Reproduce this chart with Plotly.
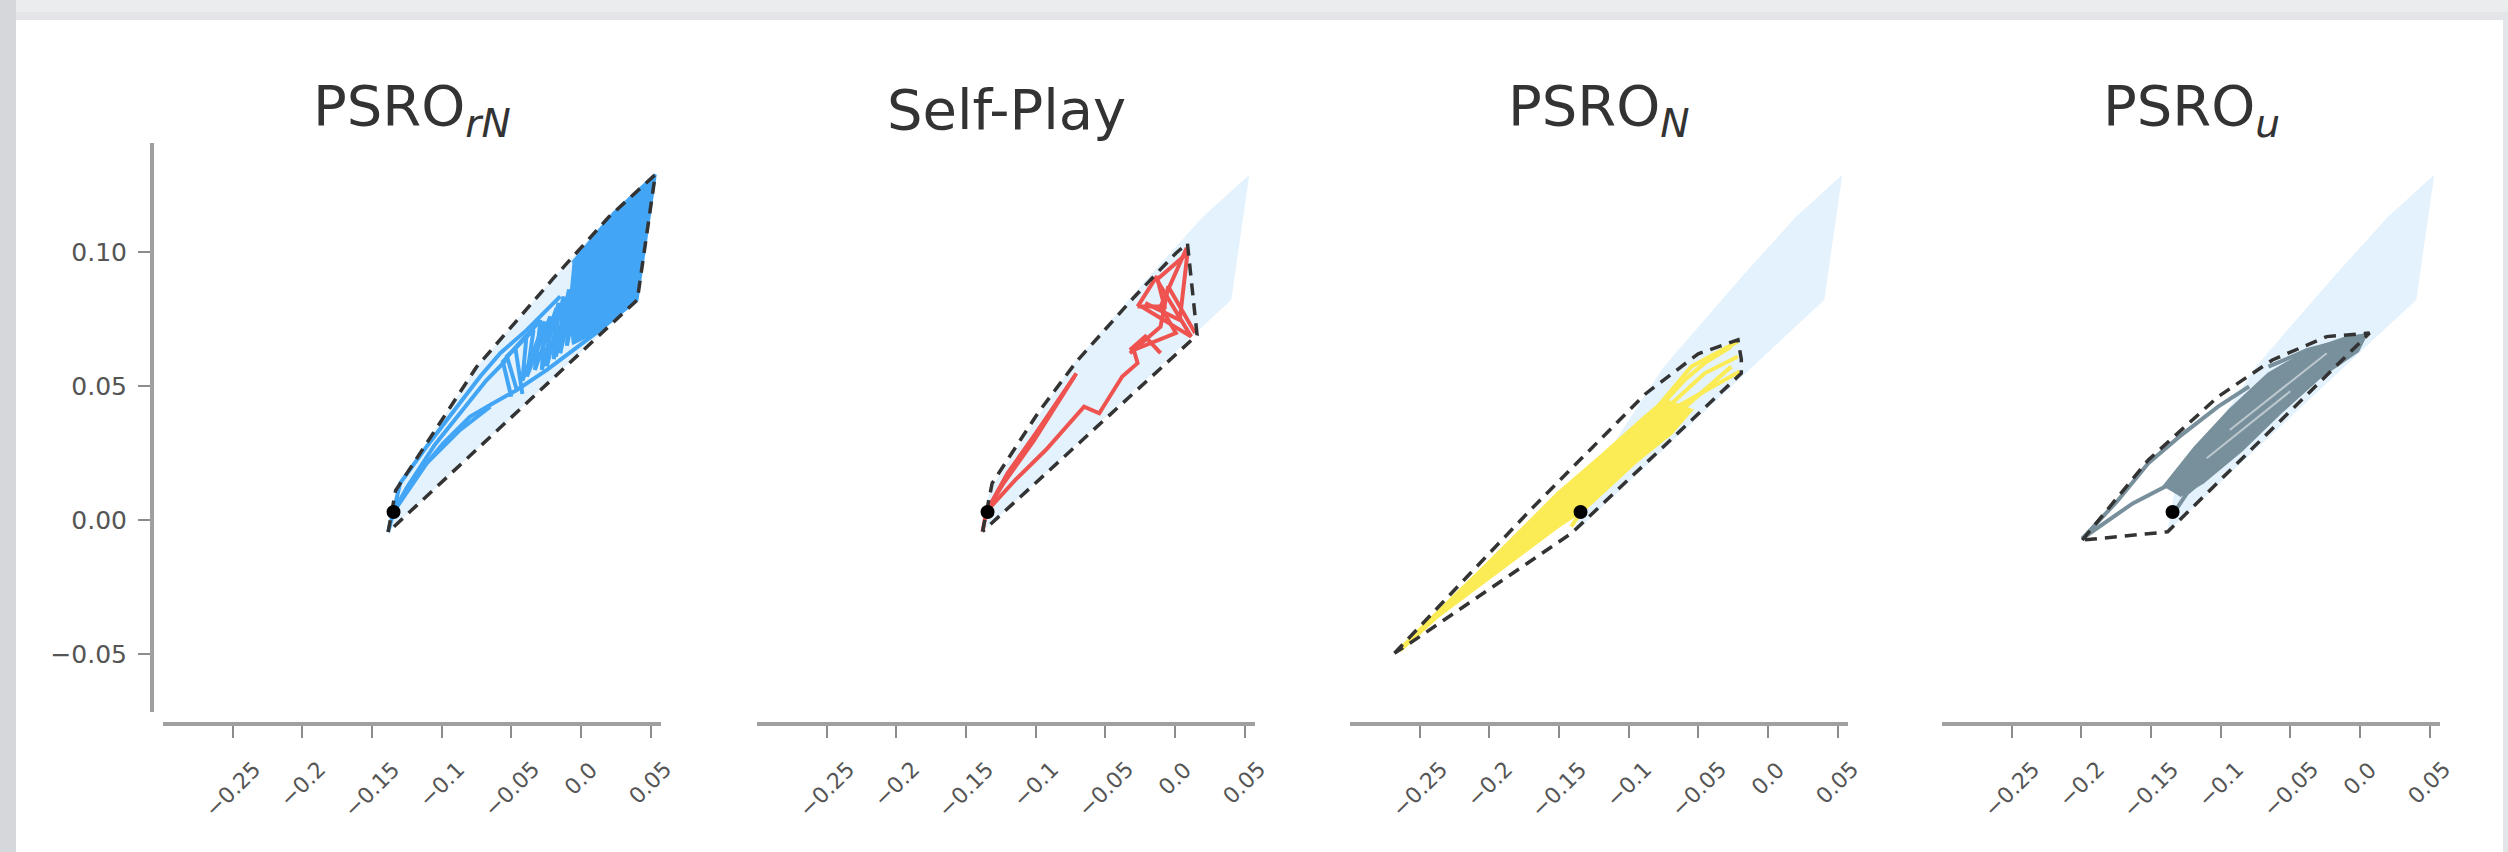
import plotly.graph_objects as go

W, H = 2508, 852

# ---------------- data ----------------
x_ticks = [-0.25, -0.2, -0.15, -0.1, -0.05, 0.0, 0.05]
x_tick_labels = ['−0.25', '−0.2', '−0.15', '−0.1', '−0.05', '0.0', '0.05']
y_ticks = [-0.05, 0.0, 0.05, 0.10]
y_tick_labels = ['−0.05', '0.00', '0.05', '0.10']

titles = ['PSRO<sub><i>rN</i></sub>', 'Self-Play', 'PSRO<sub><i>N</i></sub>', 'PSRO<sub><i>u</i></sub>']
colors = ['#42a5f5', '#ef5350', '#fbec55', '#78909c']
hull_bg_color = '#e3f2fd'

start_x = -0.1345
start_y = 0.0030

# PSRO_rN
rn_hull_x = [-0.1384, -0.1330, -0.0750, -0.0200, 0.0200, 0.0534, 0.0405, -0.1384]
rn_hull_y = [-0.0045, 0.0110, 0.0570, 0.0900, 0.1130, 0.1288, 0.0821, -0.0045]
rn_dense_x = [-0.0060, 0.0235, 0.0534, 0.0403, 0.0139, -0.0053, -0.0090]
rn_dense_y = [0.0960, 0.1145, 0.1288, 0.0821, 0.0709, 0.0660, 0.0800]
rn_paths_x = [
    [-0.0460, -0.0531, -0.0340, -0.0388, -0.0220, -0.0244, -0.0124, -0.0148, -0.0029, -0.0053, 0.0043],
    [-0.0420, -0.0470, -0.0290, -0.0330, -0.0175, -0.0195, -0.0085, -0.0100, 0.0010],
    [-0.0500, -0.0560, -0.0390, -0.0420, -0.0260, -0.0280, -0.0160, -0.0180, -0.0050],
    [-0.1345, -0.1298, -0.1106, -0.0867, -0.0723, -0.0579, -0.0388, -0.0148],
    [-0.1345, -0.1250, -0.1050, -0.0820, -0.0680, -0.0530],
    [-0.1345, -0.1226, -0.0987, -0.0795, -0.0627, -0.0460, -0.0244, 0.0139],
    [-0.1345, -0.1106, -0.0867, -0.0651],
    [-0.1384, -0.1345],
]
rn_paths_y = [
    [0.0485, 0.0610, 0.0709, 0.0535, 0.0759, 0.0573, 0.0834, 0.0622, 0.0908, 0.0660, 0.0995],
    [0.0470, 0.0640, 0.0745, 0.0560, 0.0790, 0.0600, 0.0860, 0.0650, 0.0950],
    [0.0460, 0.0590, 0.0690, 0.0520, 0.0740, 0.0560, 0.0810, 0.0610, 0.0880],
    [0.0030, 0.0137, 0.0275, 0.0436, 0.0535, 0.0622, 0.0709, 0.0834],
    [0.0030, 0.0120, 0.0280, 0.0430, 0.0520, 0.0600],
    [0.0030, 0.0137, 0.0287, 0.0386, 0.0436, 0.0485, 0.0560, 0.0709],
    [0.0030, 0.0212, 0.0336, 0.0423],
    [-0.0045, 0.0030],
]

# Self-Play
sp_hull_x = [-0.1381, -0.1312, -0.0982, -0.0708, -0.0295, 0.0007, 0.0090, 0.0159, -0.1381]
sp_hull_y = [-0.0043, 0.0137, 0.0400, 0.0590, 0.0830, 0.0995, 0.1032, 0.0690, -0.0043]
sp_paths_x = [
    [-0.1354, -0.1202, -0.0982, -0.0707],
    [-0.1354, -0.1230, -0.1010, -0.0762, -0.0721],
    [-0.1354, -0.1147, -0.0927, -0.0652, -0.0543, -0.0378, -0.0268, -0.0295, 0.0007, -0.0103, 0.0085],
    [-0.0240, 0.0117, -0.0130, 0.0090, 0.0035, -0.0213],
    [-0.0323, -0.0103, -0.0048, 0.0145],
    [-0.0268, -0.0130, -0.0075, -0.0268],
    [-0.0323, -0.0213, -0.0103],
    [-0.1381, -0.1354],
]
sp_paths_y = [
    [0.0031, 0.0174, 0.0336, 0.0547],
    [0.0031, 0.0137, 0.0298, 0.0498, 0.0535],
    [0.0031, 0.0149, 0.0261, 0.0423, 0.0398, 0.0535, 0.0585, 0.0634, 0.0697, 0.0796, 0.1015],
    [0.0796, 0.0684, 0.0896, 0.0995, 0.0746, 0.0809],
    [0.0622, 0.0721, 0.0871, 0.0697],
    [0.0796, 0.0909, 0.0796, 0.0796],
    [0.0634, 0.0684, 0.0622],
    [-0.0043, 0.0031],
]

# PSRO_N
n_hull_x = [-0.2681, -0.1700, -0.0880, -0.0500, -0.0215, -0.0191, -0.0191, -0.1412, -0.2500, -0.2681]
n_hull_y = [-0.0497, 0.0040, 0.0470, 0.0620, 0.0672, 0.0600, 0.0547, -0.0050, -0.0435, -0.0497]
n_dense_x = [-0.2672, -0.2059, -0.1508, -0.1173, -0.0885, -0.0742, -0.0550, -0.0694, -0.0933,
             -0.1173, -0.1316, -0.1508, -0.1891, -0.2370, -0.2640]
n_dense_y = [-0.0494, -0.0186, 0.0100, 0.0250, 0.0385, 0.0448, 0.0410, 0.0323, 0.0223,
             0.0110, 0.0040, -0.0025, -0.0175, -0.0360, -0.0488]
n_paths_x = [
    [-0.0790, -0.0550, -0.0215],
    [-0.0742, -0.0454, -0.0215],
    [-0.0694, -0.0359, -0.0203],
    [-0.0838, -0.0598, -0.0454, -0.0263],
    [-0.0646, -0.0263],
    [-0.1412, -0.1316],
]
n_paths_y = [
    [0.0423, 0.0572, 0.0666],
    [0.0410, 0.0547, 0.0610],
    [0.0410, 0.0510, 0.0554],
    [0.0386, 0.0522, 0.0585, 0.0647],
    [0.0398, 0.0572],
    [-0.0025, 0.0050],
]

# PSRO_u
u_hull_x = [-0.1993, -0.1519, -0.1018, -0.0628, -0.0238, 0.0069, -0.1380, -0.1993]
u_hull_y = [-0.0075, 0.0224, 0.0460, 0.0597, 0.0684, 0.0697, -0.0044, -0.0075]
u_dense_x = [-0.1408, -0.1185, -0.0934, -0.0656, -0.0377, -0.0099, 0.0041, -0.0015, -0.0294,
             -0.0572, -0.0851, -0.1129, -0.1296]
u_dense_y = [0.0124, 0.0270, 0.0410, 0.0545, 0.0630, 0.0680, 0.0690, 0.0630, 0.0530,
             0.0400, 0.0260, 0.0140, 0.0090]
u_paths_x = [
    [-0.1993, -0.1742, -0.1519, -0.1296, -0.1018, -0.0795],
    [-0.1993, -0.1631, -0.1352, -0.1073],
    [-0.1338, -0.1241, -0.1073],
    [-0.0656, -0.0377, 0.0041],
]
u_paths_y = [
    [-0.0069, 0.0070, 0.0212, 0.0311, 0.0423, 0.0498],
    [-0.0069, 0.0062, 0.0137, 0.0249],
    [0.0025, 0.0100, 0.0174],
    [0.0572, 0.0634, 0.0690],
]
u_streaks_x = [[-0.0934, -0.0238], [-0.1100, -0.0500]]
u_streaks_y = [[0.0336, 0.0622], [0.0230, 0.0480]]

panels = [
    dict(hull=(rn_hull_x, rn_hull_y), dense=(rn_dense_x, rn_dense_y), paths=(rn_paths_x, rn_paths_y), streaks=None),
    dict(hull=(sp_hull_x, sp_hull_y), dense=None, paths=(sp_paths_x, sp_paths_y), streaks=None),
    dict(hull=(n_hull_x, n_hull_y), dense=(n_dense_x, n_dense_y), paths=(n_paths_x, n_paths_y), streaks=None),
    dict(hull=(u_hull_x, u_hull_y), dense=(u_dense_x, u_dense_y), paths=(u_paths_x, u_paths_y), streaks=(u_streaks_x, u_streaks_y)),
]

# ---------------- layout geometry ----------------
lefts = [163, 757, 1350, 1942]
pw = 498
x_range = [-0.300, 0.0575]
y_range = [-0.0716, 0.1406]
y_dom = [1 - 712 / H, 1 - 143 / H]
xaxis_pos = 1 - 724 / H

fig = go.Figure()

for i, p in enumerate(panels):
    xa = 'x' if i == 0 else f'x{i + 1}'
    ya = 'y' if i == 0 else f'y{i + 1}'
    col = colors[i]
    # background hull of PSRO_rN
    fig.add_trace(go.Scatter(x=rn_hull_x, y=rn_hull_y, xaxis=xa, yaxis=ya, mode='lines',
                             fill='toself', fillcolor=hull_bg_color, line=dict(width=0, color=hull_bg_color),
                             hoverinfo='skip', showlegend=False))
    if p['dense'] is not None:
        dx, dy = p['dense']
        fig.add_trace(go.Scatter(x=dx, y=dy, xaxis=xa, yaxis=ya, mode='lines', fill='toself',
                                 fillcolor=col, line=dict(width=3, color=col),
                                 hoverinfo='skip', showlegend=False))
    px_, py_ = p['paths']
    for lx, ly in zip(px_, py_):
        fig.add_trace(go.Scatter(x=lx, y=ly, xaxis=xa, yaxis=ya, mode='lines',
                                 line=dict(width=4, color=col), hoverinfo='skip', showlegend=False))
    if p['streaks'] is not None:
        sx, sy = p['streaks']
        for lx, ly in zip(sx, sy):
            fig.add_trace(go.Scatter(x=lx, y=ly, xaxis=xa, yaxis=ya, mode='lines',
                                     line=dict(width=2, color='rgba(255,255,255,0.5)'),
                                     hoverinfo='skip', showlegend=False))
    hx, hy = p['hull']
    fig.add_trace(go.Scatter(x=hx, y=hy, xaxis=xa, yaxis=ya, mode='lines',
                             line=dict(width=3.5, color='#333333', dash='12px,8px'),
                             hoverinfo='skip', showlegend=False))
    fig.add_trace(go.Scatter(x=[start_x], y=[start_y], xaxis=xa, yaxis=ya, mode='markers',
                             marker=dict(size=14, color='black'), hoverinfo='skip', showlegend=False))

layout = dict(
    width=W, height=H, autosize=False,
    margin=dict(l=0, r=0, t=0, b=0),
    paper_bgcolor='#e4e5e8', plot_bgcolor='rgba(0,0,0,0)',
    font=dict(family='DejaVu Sans', color='#555555'),
    showlegend=False,
)

annotations = []
for i in range(4):
    key = 'xaxis' if i == 0 else f'xaxis{i + 1}'
    ykey = 'yaxis' if i == 0 else f'yaxis{i + 1}'
    xref = 'x' if i == 0 else f'x{i + 1}'
    layout[key] = dict(domain=[lefts[i] / W, (lefts[i] + pw) / W], range=x_range,
                       anchor='free', position=xaxis_pos,
                       showline=True, linecolor='#a0a0a0', linewidth=4,
                       ticks='outside', ticklen=12, tickwidth=2, tickcolor='#8c8c8c',
                       tickvals=x_ticks, showticklabels=False,
                       showgrid=False, zeroline=False, fixedrange=True)
    if i == 0:
        layout[ykey] = dict(domain=y_dom, range=y_range, anchor='free', position=152 / W,
                            showline=True, linecolor='#a0a0a0', linewidth=4,
                            ticks='outside', ticklen=12, tickwidth=2, tickcolor='#8c8c8c',
                            tickvals=y_ticks, ticktext=y_tick_labels,
                            tickfont=dict(size=25, color='#555555', family='DejaVu Sans'),
                            ticklabelstandoff=6,
                            showgrid=False, zeroline=False, fixedrange=True)
    else:
        layout[ykey] = dict(domain=y_dom, range=y_range, anchor=xref, visible=False,
                            showgrid=False, zeroline=False, fixedrange=True)
    # rotated x tick labels
    for v, t in zip(x_ticks, x_tick_labels):
        annotations.append(dict(x=v, xref=xref, y=1 - 754 / H, yref='paper', text=t,
                                showarrow=False, textangle=-45, xanchor='center', yanchor='top',
                                font=dict(size=22, color='#555555', family='DejaVu Sans')))
    # title
    annotations.append(dict(x=(lefts[i] + pw / 2) / W, xref='paper', y=1 - 110 / H, yref='paper',
                            text=titles[i], showarrow=False, xanchor='center', yanchor='middle',
                            font=dict(size=56, color='#333333', family='DejaVu Sans')))

layout['annotations'] = annotations
layout['shapes'] = [
    dict(type='rect', xref='paper', yref='paper', x0=0, x1=1, y0=1 - 12 / H, y1=1,
         fillcolor='#ebecee', line=dict(width=0), layer='below'),
    dict(type='rect', xref='paper', yref='paper', x0=0, x1=16 / W, y0=0, y1=1,
         fillcolor='#d6d7da', line=dict(width=0), layer='below'),
    dict(type='rect', xref='paper', yref='paper', x0=16 / W, x1=2503 / W, y0=0, y1=1 - 20 / H,
         fillcolor='white', line=dict(width=0), layer='below'),
]

fig.update_layout(**layout)

fig.write_html("out.html", config={'displayModeBar': False},
               post_script="document.body.style.margin='0';document.body.style.overflow='hidden';")
